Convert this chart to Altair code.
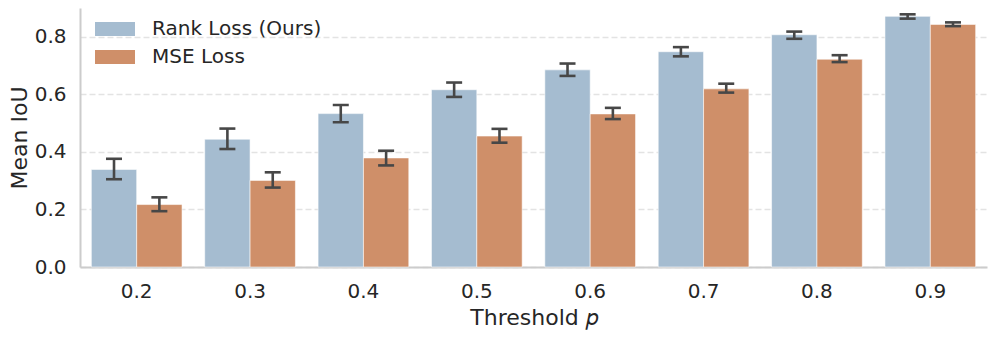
import altair as alt
import pandas as pd

thresholds = ["0.2", "0.3", "0.4", "0.5", "0.6", "0.7", "0.8", "0.9"]
series = ["Rank Loss (Ours)", "MSE Loss"]
rank_mean = [0.339, 0.444, 0.533, 0.616, 0.685, 0.748, 0.807, 0.871]
rank_lo = [0.305, 0.410, 0.503, 0.591, 0.664, 0.732, 0.793, 0.863]
rank_hi = [0.376, 0.481, 0.563, 0.641, 0.707, 0.764, 0.818, 0.878]
mse_mean = [0.217, 0.301, 0.379, 0.455, 0.532, 0.619, 0.722, 0.843]
mse_lo = [0.194, 0.276, 0.353, 0.432, 0.514, 0.606, 0.712, 0.837]
mse_hi = [0.242, 0.329, 0.404, 0.480, 0.553, 0.637, 0.736, 0.850]
colors = ["#a5bcd0", "#cf8f69"]

rows = []
for i, t in enumerate(thresholds):
    rows.append({"t": t, "s": series[0], "m": rank_mean[i], "lo": rank_lo[i], "hi": rank_hi[i]})
    rows.append({"t": t, "s": series[1], "m": mse_mean[i], "lo": mse_lo[i], "hi": mse_hi[i]})
df = pd.DataFrame(rows)

FONT = "DejaVu Sans"
TXT = "#262626"

x = alt.X("t:N", sort=thresholds,
          scale=alt.Scale(paddingInner=0.2, paddingOuter=0.1),
          axis=alt.Axis(title="Threshold 𝑝", labelAngle=0, ticks=False, labelPadding=14,
                        titlePadding=6, domainColor="#cccccc", domainWidth=2, grid=False))
xo = alt.XOffset("s:N", sort=series, scale=alt.Scale(domain=series))
yscale = alt.Scale(domain=[0, 0.9], nice=False)

bars = alt.Chart(df).mark_bar(stroke="white", strokeWidth=0.8, strokeOpacity=0.7).encode(
    x=x,
    xOffset=xo,
    y=alt.Y("m:Q", scale=yscale,
            axis=alt.Axis(title="Mean IoU", values=[0, 0.2, 0.4, 0.6, 0.8], format=".1f",
                          ticks=False, labelPadding=14, titlePadding=3,
                          domainColor="#cccccc", domainWidth=2,
                          grid=True, gridColor="#e3e3e3", gridDash=[6, 3], gridWidth=1.4)),
    color=alt.Color("s:N", sort=series,
                    scale=alt.Scale(domain=series, range=colors),
                    legend=alt.Legend(title=None, orient="none", legendX=25, legendY=11,
                                      symbolType="M-2,-0.7L2,-0.7L2,0.7L-2,0.7Z",
                                      symbolSize=400, symbolStrokeWidth=0, symbolOpacity=1,
                                      labelOffset=27, rowPadding=8, padding=0, labelLimit=400,
                                      labelFontSize=20, labelFont=FONT, labelColor=TXT)),
)

err = alt.Chart(df).mark_rule(color="#474747", strokeWidth=2.6).encode(
    x=alt.X("t:N", sort=thresholds),
    xOffset=xo,
    y=alt.Y("lo:Q", scale=yscale),
    y2="hi:Q",
)

caps = alt.Chart(df).transform_fold(["lo", "hi"], as_=["k", "v"]).mark_tick(
    color="#474747", thickness=2.6, size=16, orient="horizontal", opacity=1).encode(
    x=alt.X("t:N", sort=thresholds),
    xOffset=xo,
    y=alt.Y("v:Q", scale=yscale),
)

chart = alt.layer(bars, err, caps).properties(
    width=907, height=259,
    autosize=alt.AutoSizeParams(type="none"),
    padding={"left": 72, "top": 0, "right": 2, "bottom": 64},
).configure_view(stroke=None).configure_axis(
    labelFont=FONT, titleFont=FONT, labelFontSize=20, titleFontSize=22,
    labelColor=TXT, titleColor=TXT, titleFontWeight="normal",
)

chart.save("out.html", embed_options={"renderer": "svg", "actions": False})
